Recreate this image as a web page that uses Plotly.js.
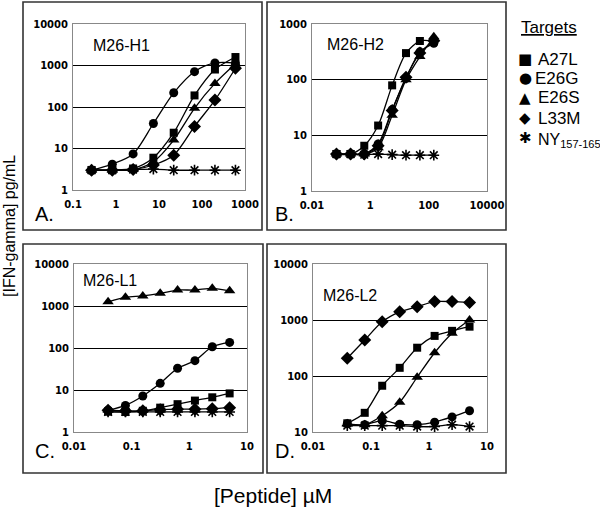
<!DOCTYPE html>
<html>
<head>
<meta charset="utf-8">
<script src="https://cdn.plot.ly/plotly-3.0.1.min.js"></script>
<style>html,body{margin:0;padding:0;background:#fff;}#chart{width:600px;height:509px;}</style>
</head>
<body>
<div id="chart"></div>
<script>
// ---- data ----
const xA = [0.27, 0.82, 2.5, 7.4, 22, 67, 200, 600];
const A27L_A = [3.0, 3.0, 3.3, 6.0, 24, 190, 800, 1600];
const E26G_A = [3.0, 4.2, 7.4, 40, 220, 710, 1150, 1150];
const E26S_A = [3.0, 3.0, 3.1, 4.8, 16, 93, 370, 1100];
const L33M_A = [3.0, 3.0, 3.1, 4.0, 6.9, 34, 147, 860];
const NY_A   = [3.0, 3.0, 3.1, 3.2, 3.0, 3.0, 3.0, 3.0];

const xB = [0.069, 0.21, 0.62, 1.85, 5.6, 16.7, 50, 150];
const A27L_B = [4.6, 4.6, 6.5, 15, 79, 300, 495, 490];
const E26G_B = [4.6, 4.6, 4.6, 7.0, 29, 106, 316, 450];
const E26S_B = [4.6, 4.6, 4.6, 6.0, 23, 100, 260, 590];
const L33M_B = [4.6, 4.6, 4.6, 6.5, 28, 110, 300, 500];
const NY_B   = [4.6, 4.6, 4.5, 4.6, 4.5, 4.4, 4.4, 4.4];

const xC = [0.039, 0.078, 0.156, 0.3125, 0.625, 1.25, 2.5, 5];
const A27L_C = [3.05, 3.0, 3.2, 3.8, 4.6, 5.6, 6.7, 8.3];
const E26G_C = [3.3, 4.3, 7.2, 14.4, 33, 50, 107, 136];
const E26S_C = [1260, 1610, 1740, 2000, 2400, 2400, 2640, 2300];
const L33M_C = [3.3, 3.2, 3.2, 3.4, 3.5, 3.5, 3.6, 3.8];
const NY_C   = [3.0, 3.0, 3.0, 3.0, 3.0, 3.0, 3.0, 3.0];

const xD = [0.039, 0.078, 0.156, 0.3125, 0.625, 1.25, 2.5, 5];
const A27L_D = [14.3, 22, 67, 140, 320, 520, 640, 760];
const E26G_D = [14, 13.5, 16, 13.8, 13.5, 15, 18.6, 24];
const E26S_D = [14, 13.5, 19.5, 34, 95, 260, 580, 1000];
const L33M_D = [207, 440, 930, 1400, 1730, 2130, 2130, 2050];
const NY_D   = [13, 13, 13, 13, 12.5, 12.5, 13.5, 12.5];

const targets = ['A27L', 'E26G', 'E26S', 'L33M', 'NY<sub><span style="font-size:11px">157-165</span></sub>'];
const legendGlyphs = ['■', '●', '▲', '◆', '✱'];
const panelNames = ['M26-H1', 'M26-H2', 'M26-L1', 'M26-L2'];
const panelLetters = ['A.', 'B.', 'C.', 'D.'];

const xTicksA = [0.1, 1, 10, 100, 1000];
const xTickTextA = ['0.1', '1', '10', '100', '1000'];
const xTicksB = [0.01, 1, 100, 10000];
const xTickTextB = ['0.01', '1', '100', '10000'];
const xTicksCD = [0.01, 0.1, 1, 10];
const xTickTextCD = ['0.01', '0.1', '1', '10'];
const yTicks = [1, 10, 100, 1000, 10000];
const yTickText = ['1', '10', '100', '1000', '10000'];

// ---- styling ----
const W = 600, H = 509;
const px = v => v / W;
const py = v => 1 - v / H;
const symbols = ['square', 'circle', 'triangle-up', 'diamond', 'asterisk-open'];
const sizes = [8, 9, 10, 10, 9];

const panels = [
  {x: xA, ys: [A27L_A, E26G_A, E26S_A, L33M_A, NY_A], ax: ''},
  {x: xB, ys: [A27L_B, E26G_B, E26S_B, L33M_B, NY_B], ax: '2'},
  {x: xC, ys: [A27L_C, E26G_C, E26S_C, L33M_C, NY_C], ax: '3'},
  {x: xD, ys: [A27L_D, E26G_D, E26S_D, L33M_D, NY_D], ax: '4'}
];

const traces = [];
panels.forEach(p => {
  p.ys.forEach((y, i) => {
    traces.push({
      x: p.x, y: y, type: 'scatter', mode: 'lines+markers', name: targets[i],
      xaxis: 'x' + p.ax, yaxis: 'y' + p.ax,
      line: {color: '#000', width: 1.3, shape: 'spline', smoothing: 0.8},
      marker: {symbol: symbols[i], size: sizes[i], color: '#000',
               line: {color: '#000', width: i === 4 ? 1.6 : 0}},
      showlegend: false, hoverinfo: 'skip'
    });
  });
});

const tickFont = {family: 'DejaVu Sans', size: 10, color: '#000', weight: 'bold'};
function xax(dom, rng, tv, tt, anchor) {
  return {domain: dom, range: rng, type: 'log', anchor: anchor,
    tickvals: tv, ticktext: tt, tickfont: tickFont, ticks: 'outside', ticklen: 5,
    tickcolor: 'rgba(0,0,0,0)',
    showgrid: false, zeroline: false, showline: true, linecolor: '#888', linewidth: 1,
    mirror: true, fixedrange: true, tickangle: 0};
}
function yax(dom, rng, anchor) {
  return {domain: dom, range: rng, type: 'log', anchor: anchor,
    tickvals: yTicks, ticktext: yTickText, tickfont: tickFont, ticks: 'outside', ticklen: 2,
    tickcolor: 'rgba(0,0,0,0)',
    showgrid: true, gridcolor: '#000', gridwidth: 1, zeroline: false,
    showline: true, linecolor: '#888', linewidth: 1, mirror: true, fixedrange: true};
}

const shapes = [];
[[23, 262, 2, 230], [267, 506, 2, 230], [23, 263, 244, 473], [267, 506, 244, 473]].forEach(b => {
  shapes.push({type: 'rect', xref: 'paper', yref: 'paper',
    x0: px(b[0]), x1: px(b[1]), y0: py(b[3]), y1: py(b[2]),
    line: {color: '#333', width: 1.6}, fillcolor: 'rgba(0,0,0,0)'});
});

const FAM = 'Liberation Sans, Arial';
const annFont = {family: FAM, size: 16, color: '#000'};
const letterFont = {family: FAM, size: 20, color: '#000'};
const annotations = [];
[[91, 45], [325, 44], [81, 280], [321, 295]].forEach((p, i) => {
  annotations.push({text: panelNames[i], xref: 'paper', yref: 'paper',
    x: px(p[0]), y: py(p[1]), xanchor: 'left', yanchor: 'middle', showarrow: false, font: annFont});
});
[[33, 214], [273, 214], [33, 451], [273, 451]].forEach((p, i) => {
  annotations.push({text: panelLetters[i], xref: 'paper', yref: 'paper',
    x: px(p[0]), y: py(p[1]), xanchor: 'left', yanchor: 'middle', showarrow: false, font: letterFont});
});
annotations.push({text: '[IFN-gamma] pg/mL', xref: 'paper', yref: 'paper', x: px(9), y: py(226),
  xanchor: 'center', yanchor: 'middle', textangle: -90, showarrow: false,
  font: {family: FAM, size: 16, color: '#000'}});
annotations.push({text: '[Peptide] µM', xref: 'paper', yref: 'paper', x: px(273), y: py(495),
  xanchor: 'center', yanchor: 'middle', showarrow: false,
  font: {family: FAM, size: 21, color: '#000'}});

// legend drawn as text
annotations.push({text: '<span style="text-decoration:underline">Targets</span>',
  xref: 'paper', yref: 'paper', x: px(519), y: py(28), xanchor: 'left', yanchor: 'middle',
  showarrow: false, font: {family: FAM, size: 17, color: '#000'}});
const legendY = [59, 78, 98, 118, 138];
targets.forEach((t, i) => {
  annotations.push({text: legendGlyphs[i], xref: 'paper', yref: 'paper', x: px(525), y: py(legendY[i]),
    xanchor: 'center', yanchor: 'middle', showarrow: false,
    font: {family: 'DejaVu Sans', size: i === 1 ? 15 : 15, color: '#000'}});
  annotations.push({text: t, xref: 'paper', yref: 'paper', x: px(i === 1 ? 533 : 536), y: py(legendY[i] + (i === 4 ? 3 : 0)),
    xanchor: 'left', yanchor: 'middle', showarrow: false,
    font: {family: FAM, size: i === 4 ? 16 : 17, color: '#000'}});
});

const layout = {
  width: W, height: H, margin: {l: 0, r: 0, t: 0, b: 0},
  paper_bgcolor: '#fff', plot_bgcolor: '#fff',
  font: {family: FAM, color: '#000'},
  xaxis: xax([px(73), px(245)], [-1, 3], xTicksA, xTickTextA, 'y'),
  yaxis: yax([py(190), py(24)], [0, 4], 'x'),
  xaxis2: xax([px(312), px(487)], [-2, 4], xTicksB, xTickTextB, 'y2'),
  yaxis2: yax([py(191), py(24)], [0, 3], 'x2'),
  xaxis3: xax([px(74), px(247)], [-2, 1], xTicksCD, xTickTextCD, 'y3'),
  yaxis3: yax([py(432), py(264)], [0, 4], 'x3'),
  xaxis4: xax([px(313), px(487)], [-2, 1], xTicksCD, xTickTextCD, 'y4'),
  yaxis4: yax([py(432), py(264)], [1, 4], 'x4'),
  shapes: shapes, annotations: annotations,
  showlegend: false
};

Plotly.newPlot('chart', traces, layout, {displayModeBar: false, staticPlot: true});
</script>
</body>
</html>
